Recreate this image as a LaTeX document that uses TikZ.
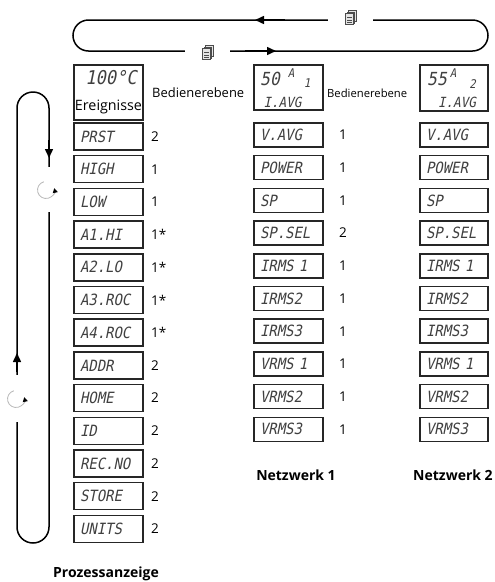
\documentclass[tikz,border=0pt]{standalone}
\usepackage{graphicx}
\usepackage{fontspec}
\setmainfont{Open Sans}
\newfontfamily\lab{Open Sans}
\newfontfamily\lcd[FakeSlant=0.2,FakeStretch=0.9]{DejaVu Sans Mono}
\usetikzlibrary{arrows.meta}
\tikzset{
  lcdbox/.style={draw=black!85, line width=1.5pt, minimum height=27pt, text width=57pt, inner xsep=6pt, inner ysep=0pt, align=left, font={\lcd\fontsize{15.5}{15.5}\selectfont}, text=black!75},
  lcdbox2/.style={lcdbox, minimum height=24pt},
  lcdbox3/.style={lcdbox2, text width=56pt},
  bigbox/.style={draw=black!85, line width=1.5pt, inner sep=0pt},
  lcd/.style={font={\lcd\fontsize{#1}{#1}\selectfont}, text=black!75, inner sep=0pt, text height=0.73em, text depth=0pt},
  lcd/.default=14,
  lbl/.style={font={\lab\fontsize{#1}{#1}\selectfont}, inner sep=0pt},
  lbl/.default=13.5,
  title/.style={font={\lab\bfseries\fontsize{14}{15}\selectfont}, inner sep=0pt},
  flow/.style={line width=1.5pt, black},
  tip/.style={-{Triangle[length=9pt,width=8pt]}, line width=1.5pt},
  gap/.style={minimum width=#1, minimum height=1pt, inner sep=0pt},
  vgap/.style={minimum height=#1, minimum width=1pt, inner sep=0pt},
  pages/.pic={
    \foreach \d in {3,1.5,0} {
      \filldraw[fill=gray!20, draw=gray!60!black, line width=0.5pt] (-4.5+\d,-5-\d) rectangle (3+\d,6-\d);
    }
    \draw[gray!60!black, line width=0.6pt] (-3,-1)--(1.5,-1) (-3,1.5)--(1.5,1.5) (-3,4)--(1.5,4);
  },
  rot/.pic={
    \draw[gray!55, line width=0.8pt, -{Triangle[length=4.5pt,width=5pt,color=black]}] (255:8.5) arc (255:-12:8.5);
  }
}
\begin{document}
\begin{tikzpicture}[x=1pt,y=-1pt]
\useasboundingbox (0,0) rectangle (495,582);

% top loop
\node[gap=45pt] (c1) at (350.5,20) {};
\node[gap=45pt] (c2) at (207.5,51) {};
\pic at (350,18.5) {pages};
\pic at (207,53.5) {pages};
\draw[flow] (c2.east) -- (472.5,51) arc (90:-90:15.5) -- (c1.east);
\draw[flow] (c1.west) -- (88.5,20) arc (-90:-270:15.5) -- (c2.west);
\draw[tip] (285,20) -- (255,20);
\draw[tip] (245,51) -- (276,51);

% left loop
\node[vgap=45pt] (r1) at (49,189.5) {};
\node[vgap=47pt] (r2) at (17,398.5) {};
\pic at (46,190) {rot};
\pic at (16,399) {rot};
\draw[flow] (r1.south) -- (49,527) arc (0:180:16) -- (r2.south);
\draw[flow] (r2.north) -- (17,108) arc (180:360:16) -- (r1.north);
\draw[tip] (49,140) -- (49,158);
\draw[tip] (17,372) -- (17,353);

% column 1
\node[bigbox, minimum width=69pt, minimum height=55pt] (ev) at (108.5,92.5) {};
\node[lcd=19] (evv) at (111,80.5) {100°C};
\node[lbl=13.5] (evt) at (108.5,107) {\resizebox{67pt}{!}{Ereignisse}};
\node[lbl=13, anchor=west] (b1) at (152,93) {\resizebox{92pt}{!}{Bedienerebene}};
\foreach \t/\n [count=\i from 0] in {PRST/2, HIGH/1, LOW/1, A1.HI/1*, A2.LO/1*, A3.ROC/1*, A4.ROC/1*, ADDR/2, HOME/2, ID/2, REC.NO/2, STORE/2, UNITS/2} {
  \node[lcdbox] (a\i) at (108.5,136.5+32.7*\i) {\t};
  \node[lbl, anchor=west] (an\i) at (151,136.5+32.7*\i) {\n};
}

% column 2
\node[bigbox, minimum width=69pt, minimum height=45pt] (n1) at (288.5,87.5) {};
\node[lcd=18] (n1v) at (270,82) {50};
\node[lcd=12] (n1a) at (291,74) {A};
\node[lcd=12] (n1n) at (307,84) {1};
\node[lcd=14] (n1i) at (282.5,103.5) {I.AVG};
\node[lbl=11.4, anchor=west] (b2) at (327,93) {\resizebox{80pt}{!}{Bedienerebene}};
\foreach \t/\n [count=\i from 0] in {V.AVG/1, POWER/1, SP/1, SP.SEL/2, IRMS 1/1, IRMS2/1, IRMS3/1, VRMS 1/1, VRMS2/1, VRMS3/1} {
  \node[lcdbox2] (m\i) at (288.5,135+32.7*\i) {\t};
  \node[lbl] (mn\i) at (343,135+32.7*\i) {\n};
}

% column 3
\node[bigbox, minimum width=68pt, minimum height=46pt] (n2) at (454,88) {};
\node[lcd=18] (n2v) at (437,82) {55};
\node[lcd=12] (n2a) at (453,74) {A};
\node[lcd=12] (n2n) at (472.5,84.5) {2};
\node[lcd=14] (n2i) at (457,103.5) {I.AVG};
\foreach \t [count=\i from 0] in {V.AVG, POWER, SP, SP.SEL, IRMS 1, IRMS2, IRMS3, VRMS 1, VRMS2, VRMS3} {
  \node[lcdbox3] (k\i) at (454,135+32.7*\i) {\t};
}

% titles
\node[title] (t1) at (106,574) {Prozessanzeige};
\node[title] (t2) at (296,475) {Netzwerk 1};
\node[title, anchor=west] (t3) at (413,475) {Netzwerk 2};
\end{tikzpicture}
\end{document}
